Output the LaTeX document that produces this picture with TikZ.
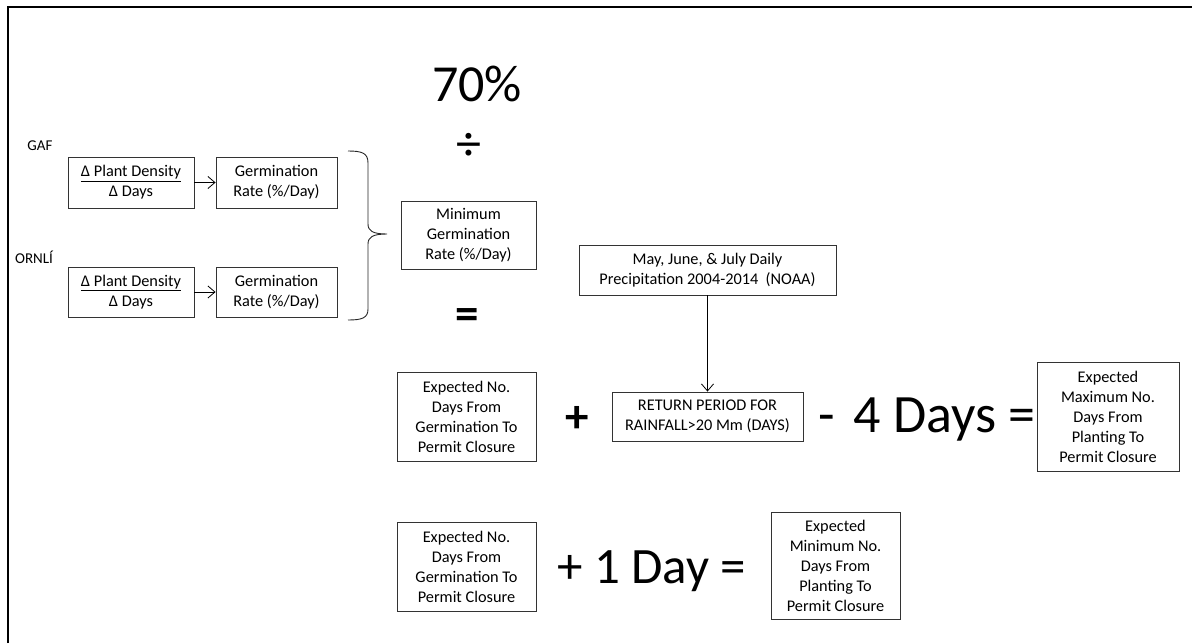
\documentclass[tikz,border=0pt]{standalone}
\usepackage{fontspec}
\setmainfont{Carlito}
\usetikzlibrary{arrows.meta}
\begin{document}
\begin{tikzpicture}[x=1pt,y=-1pt,
  box/.style={draw=black!80, line width=0.9pt, align=center, inner sep=0pt, font=\fontsize{16.3}{20}\selectfont},
  lbl/.style={font=\fontsize{15}{18}\selectfont, inner sep=0pt},
  big/.style={font=\fontsize{52}{60}\selectfont, inner sep=0pt},
  sym/.style={font=\fontsize{47}{52}\selectfont\bfseries, inner sep=0pt},
  arr/.style={-{Straight Barb[length=7pt,width=12pt]}, line width=0.8pt},
  brace/.style={line width=0.9pt, draw=black!85}]
\useasboundingbox (0,0) rectangle (1192,643);
\draw[line width=2pt] (8,643) -- (8,7) -- (1192,7);

% left column
\node[lbl] (gaf) at (40,146) {GAF};
\node[box, minimum width=126pt, minimum height=51pt] (b1) at (131,182.5) {\underline{Δ Plant Density}\\Δ Days};
\node[box, minimum width=121pt, minimum height=51pt] (b2) at (276.5,182.5) {Germination\\Rate (\%/Day)};
\node[lbl] (ornl) at (34,257) {ORNLÍ};
\node[box, minimum width=126pt, minimum height=50pt] (b3) at (131,292) {\underline{Δ Plant Density}\\Δ Days};
\node[box, minimum width=121pt, minimum height=50pt] (b4) at (276.5,292) {Germination\\Rate (\%/Day)};
\draw[arr] (b1) -- (b2);
\draw[arr] (b3) -- (b4);

% brace
\coordinate (bt) at (348,151);
\coordinate (bm) at (387,234);
\coordinate (bb) at (348,320);
\draw[brace] (bt) .. controls (362,151) and (368,153) .. (368,163) -- (368,224)
  .. controls (368,231) and (373,234) .. (bm)
  .. controls (373,234) and (368,237) .. (368,244) -- (368,309)
  .. controls (368,318) and (362,320) .. (bb);

% middle column
\node[big] (pct) at (477,84) {70\%};
\node[font=\fontsize{50}{54}\selectfont, inner sep=0pt] (div) at (469,147) {÷};
\node[box, minimum width=135pt, minimum height=68pt] (minr) at (468.5,235) {Minimum\\Germination\\Rate (\%/Day)};
\node[sym] (eq1) at (467,319) {=};

\node[box, minimum width=257pt, minimum height=50pt] (noaa) at (707.5,270) {May, June, \& July Daily\\Precipitation 2004-2014\ \ (NOAA)};
\node[box, minimum width=191pt, minimum height=49pt] (ret) at (707.5,416.5) {RETURN PERIOD FOR\\RAINFALL>20 Mm (DAYS)};
\draw[arr] (noaa) -- (ret);

\node[box, minimum width=139pt, minimum height=89pt] (exp1) at (466.5,416.5) {Expected No.\\Days From\\Germination To\\Permit Closure};
\node[sym] (plus1) at (577,419) {+};
\node[big, font=\fontsize{54}{60}\selectfont, anchor=base west] (minus) at (818,432) {-\hspace{0.35em}4 Days =};
\node[box, minimum width=142pt, minimum height=109pt] (maxb) at (1108,416.5) {Expected\\Maximum No.\\Days From\\Planting To\\Permit Closure};

% bottom row
\node[box, minimum width=139pt, minimum height=89pt] (exp2) at (466.5,566.5) {Expected No.\\Days From\\Germination To\\Permit Closure};
\node[big, font=\fontsize{51}{60}\selectfont, anchor=base west] (plusday) at (557,583) {+ 1 Day =};
\node[box, minimum width=129pt, minimum height=107pt] (minb) at (835.5,565.5) {Expected\\Minimum No.\\Days From\\Planting To\\Permit Closure};
\end{tikzpicture}
\end{document}
